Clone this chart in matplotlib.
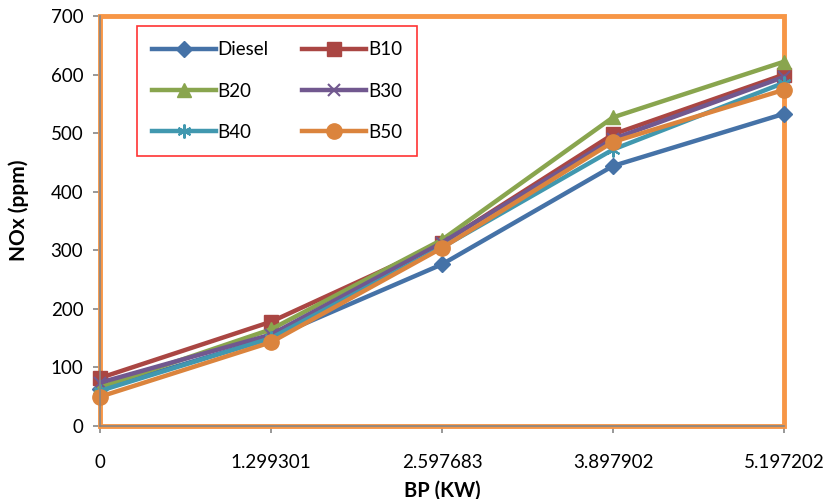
import numpy as np
import matplotlib.pyplot as plt
from matplotlib.patches import Rectangle

# Brake power (kW) categories and NOx readings (ppm) per fuel blend
bp_labels = ["0", "1.299301", "2.597683", "3.897902", "5.197202"]

diesel = [63, 150, 276, 444, 533]
b10 = [82, 178, 312, 498, 600]
b20 = [66, 165, 318, 527, 622]
b30 = [74, 156, 313, 490, 596]
b40 = [60, 150, 305, 472, 586]
b50 = [50, 143, 304, 485, 574]

series = [
    ("Diesel", diesel, "#4572A7", "D", 8),
    ("B10", b10, "#AA4643", "s", 10),
    ("B20", b20, "#89A54E", "^", 10),
    ("B30", b30, "#71588F", "x", 9),
    ("B40", b40, "#4198AF", (6, 2, 0), 10),
    ("B50", b50, "#DB843D", "o", 11),
]

plt.rcParams["font.family"] = ["Lato", "DejaVu Sans"]

fig = plt.figure(figsize=(8.28, 4.99), dpi=100)
ax = fig.add_axes([100 / 828, 73 / 499, 684 / 828, 410 / 499])

x = np.arange(len(bp_labels))
lines = []
for name, vals, color, marker, ms in series:
    ln, = ax.plot(x, vals, color=color, lw=3.2, marker=marker, ms=ms,
                  markeredgecolor=color,
                  markeredgewidth=1.5 if marker in ("x", (6, 2, 0)) else 1,
                  label=name, clip_on=False, zorder=3)
    lines.append(ln)

ax.set_xlim(0, 4)
ax.set_ylim(0, 700)
ax.set_xticks(x)
ax.set_xticklabels(bp_labels)
ax.set_yticks(np.arange(0, 701, 100))

# gray axis lines on left/bottom, orange plot-area border around everything
for side in ("top", "right"):
    ax.spines[side].set_visible(False)
for side in ("left", "bottom"):
    ax.spines[side].set_color("#868686")
    ax.spines[side].set_linewidth(1.2)
    ax.spines[side].set_zorder(4)
ax.add_patch(Rectangle((0, 0), 1, 1, transform=ax.transAxes, fill=False,
                       edgecolor="#F79646", lw=3.5, clip_on=False, zorder=2))

ax.tick_params(axis="both", direction="out", length=5, width=1.2,
               color="#868686", labelsize=13.5, labelcolor="black")
ax.tick_params(axis="x", pad=15)
ax.tick_params(axis="y", pad=7)

ax.set_xlabel("BP (KW)", fontsize=14.5, fontweight="bold")
ax.set_ylabel("NOx (ppm)", fontsize=15, fontweight="bold")
ax.xaxis.set_label_coords(0.5, -0.133)
ax.yaxis.set_label_coords(-0.104, 0.527)

# legend filled row by row: Diesel/B10, B20/B30, B40/B50
order = [0, 2, 4, 1, 3, 5]
leg = ax.legend([lines[i] for i in order], [series[i][0] for i in order],
                ncol=2, loc="upper left", bbox_to_anchor=(0.054, 0.975),
                frameon=True, fancybox=False, fontsize=13.5, handlelength=3.4,
                columnspacing=1.8, labelspacing=1.3, borderpad=0.8,
                handletextpad=0.1, borderaxespad=0)
leg.get_frame().set_edgecolor("#FF0000")
leg.get_frame().set_linewidth(1.2)
leg.set_zorder(5)

fig.savefig("out.png", dpi=100)
